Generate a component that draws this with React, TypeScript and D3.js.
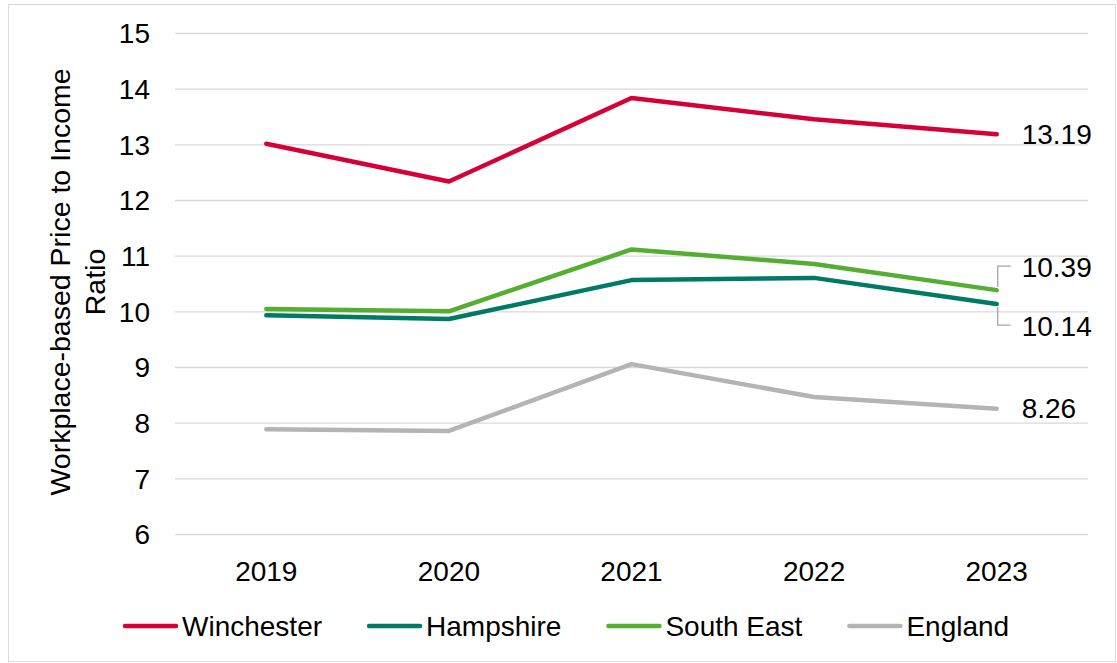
import React from "react";
import * as d3 from "d3";

const years = ["2019", "2020", "2021", "2022", "2023"];
const winchester = [13.02, 12.34, 13.84, 13.46, 13.19];
const hampshire = [9.94, 9.87, 10.57, 10.61, 10.14];
const southEast = [10.05, 10.01, 11.12, 10.86, 10.39];
const england = [7.89, 7.86, 9.06, 8.47, 8.26];
const yTicks = [6, 7, 8, 9, 10, 11, 12, 13, 14, 15];
const seriesNames = ["Winchester", "Hampshire", "South East", "England"];
const seriesColors = ["#D50037", "#007A64", "#53AE32", "#B4B4B4"];
const yTitleLines = ["Workplace-based Price to Income", "Ratio"];

const W = 1117;
const H = 663;
const FONT = "'Liberation Sans', Arial, sans-serif";
const FS = 28;

function measure(text: string): number {
  if (typeof document === "undefined") return text.length * FS * 0.55;
  const c = document.createElement("canvas");
  const ctx = c.getContext("2d");
  if (!ctx) return text.length * FS * 0.55;
  ctx.font = `${FS}px 'Liberation Sans'`;
  return ctx.measureText(text).width;
}

export default function App() {
  const plotLeft = 175;
  const plotRight = 1088;
  const x = d3.scaleBand<string>().domain(years).range([plotLeft, plotRight]);
  const y = d3.scaleLinear().domain([6, 15]).range([534.5, 33.5]);
  const cx = (yr: string) => (x(yr) as number) + x.bandwidth() / 2;

  const all = [winchester, hampshire, southEast, england];
  const line = d3
    .line<number>()
    .x((_, i) => cx(years[i]))
    .y((v) => y(v));

  const last = years.length - 1;
  const lx = cx(years[last]);
  const labelX = lx + 25;

  // legend layout
  const legendY = 626;
  let lxPos = 123;
  const legendItems = seriesNames.map((n, i) => {
    const item = { name: n, color: seriesColors[i], x: lxPos };
    lxPos += 55 + 4 + measure(n) + 45;
    return item;
  });

  return (
    <div style={{ position: "absolute", left: 0, top: 0 }}>
      <svg width={W} height={H} style={{ display: "block", fontFamily: FONT }}>
        <rect x={0} y={0} width={W} height={H} fill="#fff" />
        <rect x={8.5} y={4.5} width={1107} height={657} fill="none" stroke="#D9D9D9" strokeWidth={1} />
        {yTicks.map((t) => (
          <g key={t}>
            <line x1={plotLeft} x2={plotRight} y1={y(t)} y2={y(t)} stroke="#D9D9D9" strokeWidth={1.3} />
            <text x={150} y={y(t)} dy="0.35em" textAnchor="end" fontSize={FS} fill="#000">
              {t}
            </text>
          </g>
        ))}
        {years.map((yr) => (
          <text key={yr} x={cx(yr)} y={571} dy="0.35em" textAnchor="middle" fontSize={FS} fill="#000">
            {yr}
          </text>
        ))}
        <g transform={`translate(0, 282) rotate(-90)`}>
          {yTitleLines.map((l, i) => (
            <text key={i} x={0} y={60 + i * 35} dy="0.35em" textAnchor="middle" fontSize={28.5} fill="#000">
              {l}
            </text>
          ))}
        </g>
        {[3, 1, 2, 0].map((si) => (
          <path
            key={si}
            d={line(all[si]) || ""}
            fill="none"
            stroke={seriesColors[si]}
            strokeWidth={4.5}
            strokeLinejoin="round"
            strokeLinecap="round"
          />
        ))}
        {/* leader lines */}
        <polyline
          points={`${lx + 1},${y(southEast[last]) - 3} ${lx + 1},${y(southEast[last]) - 24} ${lx + 14},${y(southEast[last]) - 24}`}
          fill="none"
          stroke="#A6A6A6"
          strokeWidth={1.3}
        />
        <polyline
          points={`${lx + 1},${y(hampshire[last]) + 3} ${lx + 1},${y(hampshire[last]) + 21} ${lx + 14},${y(hampshire[last]) + 21}`}
          fill="none"
          stroke="#A6A6A6"
          strokeWidth={1.3}
        />
        <text x={labelX} y={y(winchester[last])} dy="0.35em" fontSize={FS} fill="#000">
          {winchester[last].toFixed(2)}
        </text>
        <text x={labelX} y={y(southEast[last]) - 23} dy="0.35em" fontSize={FS} fill="#000">
          {southEast[last].toFixed(2)}
        </text>
        <text x={labelX} y={y(hampshire[last]) + 22} dy="0.35em" fontSize={FS} fill="#000">
          {hampshire[last].toFixed(2)}
        </text>
        <text x={labelX} y={y(england[last])} dy="0.35em" fontSize={FS} fill="#000">
          {england[last].toFixed(2)}
        </text>
        {legendItems.map((it) => (
          <g key={it.name}>
            <line
              x1={it.x + 2}
              x2={it.x + 53}
              y1={legendY}
              y2={legendY}
              stroke={it.color}
              strokeWidth={4.5}
              strokeLinecap="round"
            />
            <text x={it.x + 59} y={legendY} dy="0.35em" fontSize={FS} fill="#000">
              {it.name}
            </text>
          </g>
        ))}
      </svg>
    </div>
  );
}
